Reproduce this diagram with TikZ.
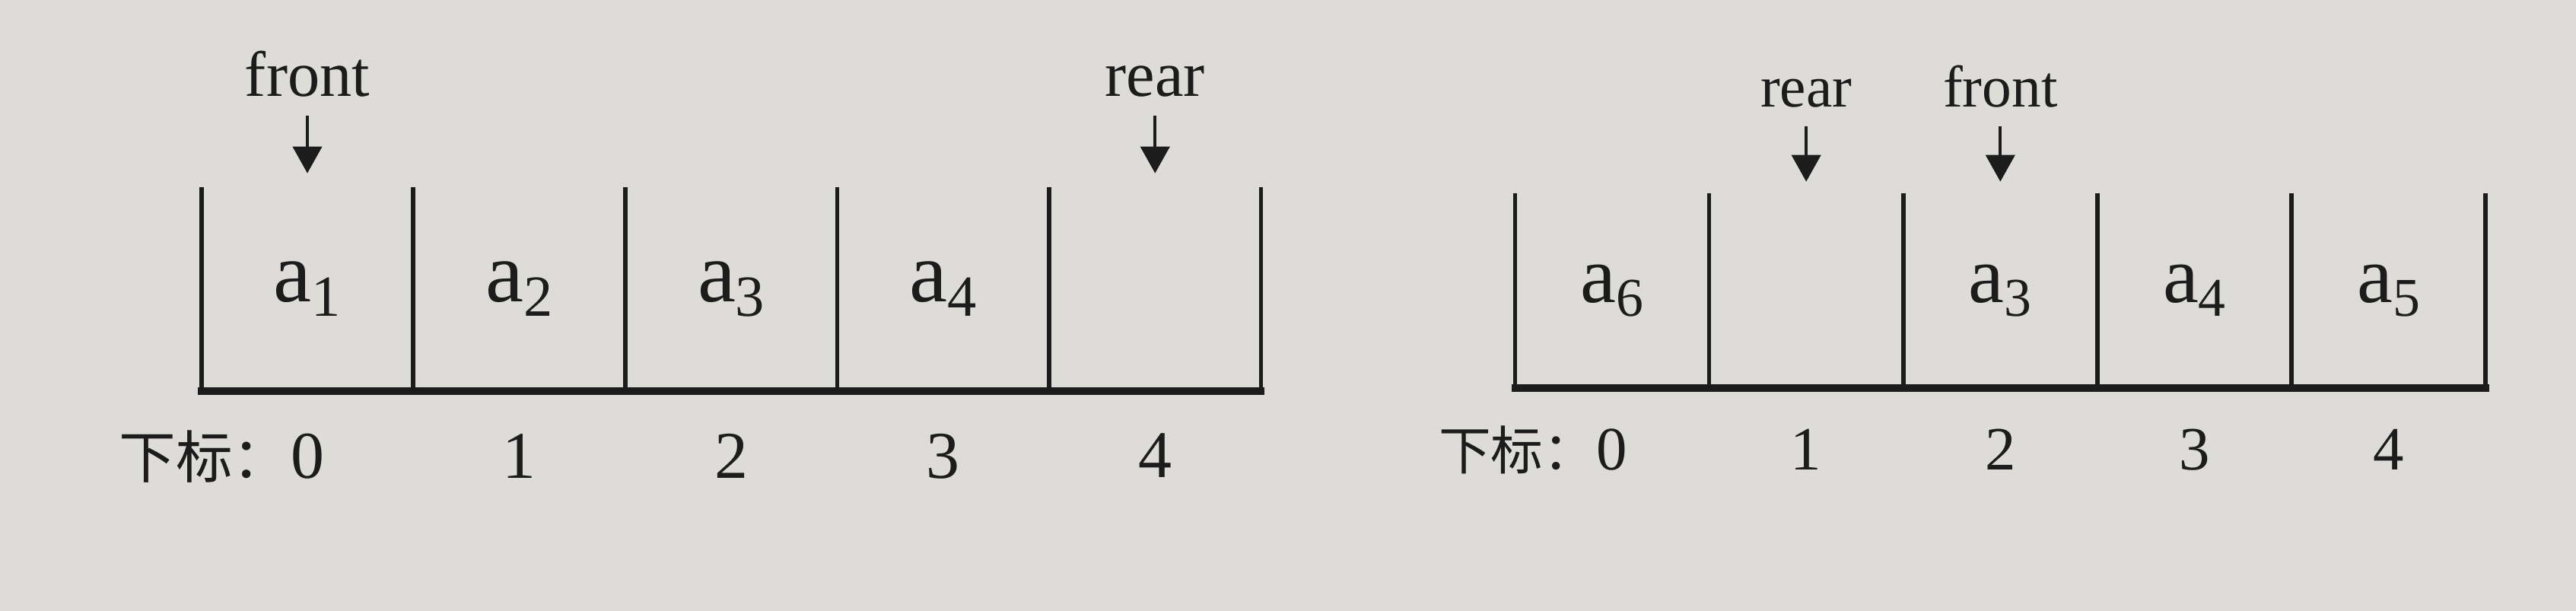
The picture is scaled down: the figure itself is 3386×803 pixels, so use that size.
\documentclass[tikz,border=0pt]{standalone}
\usepackage{fontspec}
\setmainfont{Liberation Serif}
\newfontfamily\cjk[Scale=0.85]{Noto Sans CJK SC}
\usetikzlibrary{positioning,arrows.meta}

\definecolor{paper}{RGB}{221,220,216}
\definecolor{ink}{RGB}{28,28,28}
\newcommand{\qelem}[1]{a\raisebox{-0.17em}{\scalebox{0.68}{#1}}}
\tikzstyle{cell} = [rectangle, inner sep=0pt, minimum width=2.77cm, minimum height=2.67cm, font=\fontsize{32pt}{38pt}\selectfont]
\tikzstyle{wall} = [draw, line width=1.6pt]
\tikzstyle{floor} = [draw, line width=2.8pt, line cap=rect]
\tikzstyle{ptrlabel} = [inner sep=0pt, font=\fontsize{24pt}{28pt}\selectfont]
\tikzstyle{idx} = [inner sep=0pt, font=\fontsize{25pt}{30pt}\selectfont]
\tikzstyle{line} = [draw, line width=1.2pt, shorten <=0.24cm, -{Triangle[length=0.35cm,width=0.38cm]}]

\begin{document}
\begin{tikzpicture}[x=0.01cm,y=-0.01cm,color=ink]
  \fill[paper] (0,0) rectangle (3386,803);
  \useasboundingbox (0,0) rectangle (3386,803);

  % queue before wrap-around
  \node [cell] (l0) at (404,380) {\qelem{1}};
  \node [cell, right=0pt of l0] (l1) {\qelem{2}};
  \node [cell, right=0pt of l1] (l2) {\qelem{3}};
  \node [cell, right=0pt of l2] (l3) {\qelem{4}};
  \node [cell, right=0pt of l3] (l4) {};

  \path [wall] (l0.north west) -- (l0.south west);
  \path [wall] (l1.north west) -- (l1.south west);
  \path [wall] (l2.north west) -- (l2.south west);
  \path [wall] (l3.north west) -- (l3.south west);
  \path [wall] (l4.north west) -- (l4.south west);
  \path [wall] (l4.north east) -- (l4.south east);
  \path [floor] (l0.south west) -- (l4.south east);

  \coordinate [above=0.18cm of l0.north] (lfronttip);
  \node [ptrlabel, above=1.0cm of lfronttip] (lfront) {front};
  \coordinate [above=0.18cm of l4.north] (lreartip);
  \node [ptrlabel, above=1.0cm of lreartip] (lrear) {rear};
  \path [line] (lfront) -- (lfronttip);
  \path [line] (lrear) -- (lreartip);

  \node [idx, below=0.55cm of l0] (lidx0) {0};
  \node [idx, below=0.55cm of l1] (lidx1) {1};
  \node [idx, below=0.55cm of l2] (lidx2) {2};
  \node [idx, below=0.55cm of l3] (lidx3) {3};
  \node [idx, below=0.55cm of l4] (lidx4) {4};
  \node [idx, anchor=base east] (lidxname) at (lidx0.base west) {\cjk 下标：};

  % queue after wrap-around
  \begin{scope}[cell/.append style={minimum width=2.536cm, minimum height=2.55cm, font=\fontsize{30pt}{36pt}\selectfont},
                ptrlabel/.append style={font=\fontsize{22pt}{26pt}\selectfont},
                idx/.append style={font=\fontsize{23pt}{27pt}\selectfont}]
  \node [cell] (r0) at (2119,382) {\qelem{6}};
  \node [cell, right=0pt of r0] (r1) {};
  \node [cell, right=0pt of r1] (r2) {\qelem{3}};
  \node [cell, right=0pt of r2] (r3) {\qelem{4}};
  \node [cell, right=0pt of r3] (r4) {\qelem{5}};

  \path [wall] (r0.north west) -- (r0.south west);
  \path [wall] (r1.north west) -- (r1.south west);
  \path [wall] (r2.north west) -- (r2.south west);
  \path [wall] (r3.north west) -- (r3.south west);
  \path [wall] (r4.north west) -- (r4.south west);
  \path [wall] (r4.north east) -- (r4.south east);
  \path [floor] (r0.south west) -- (r4.south east);

  \coordinate [above=0.15cm of r1.north] (rreartip);
  \node [ptrlabel, above=0.97cm of rreartip] (rrear) {rear};
  \coordinate [above=0.15cm of r2.north] (rfronttip);
  \node [ptrlabel, above=0.97cm of rfronttip] (rfront) {front};
  \path [line] (rrear) -- (rreartip);
  \path [line] (rfront) -- (rfronttip);

  \node [idx, below=0.53cm of r0] (ridx0) {0};
  \node [idx, below=0.53cm of r1] (ridx1) {1};
  \node [idx, below=0.53cm of r2] (ridx2) {2};
  \node [idx, below=0.53cm of r3] (ridx3) {3};
  \node [idx, below=0.53cm of r4] (ridx4) {4};
  \node [idx, anchor=base east] (ridxname) at (ridx0.base west) {\cjk 下标：};
  \end{scope}
\end{tikzpicture}
\end{document}
